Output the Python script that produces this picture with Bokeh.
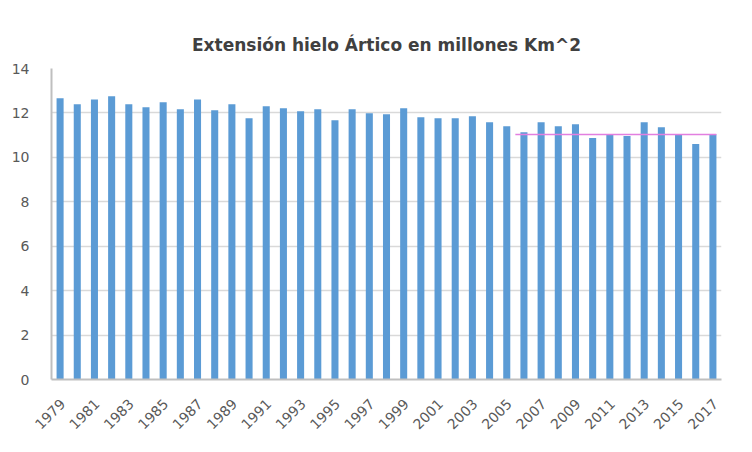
from bokeh.plotting import figure
from bokeh.models import Range1d, FixedTicker, ColumnDataSource
from bokeh.embed import file_html
from bokeh.resources import INLINE

years = list(range(1979, 2018))
extent = [12.66, 12.39, 12.61, 12.75, 12.39, 12.26, 12.48, 12.17, 12.61, 12.12,
          12.39, 11.76, 12.30, 12.21, 12.08, 12.17, 11.67, 12.17, 11.99, 11.94,
          12.21, 11.81, 11.76, 11.76, 11.85, 11.58, 11.40, 11.13, 11.58, 11.40,
          11.49, 10.87, 11.04, 10.96, 11.58, 11.36, 11.04, 10.60, 11.04]
ref_line_x = [2005.5, 2017.2]
ref_line_y = [11.03, 11.03]
tick_years = list(range(1979, 2018, 2))
tick_labels = [str(y) for y in tick_years]
y_ticks = [0, 2, 4, 6, 8, 10, 12, 14]

FONT = "DejaVu Sans"
LABEL_SHIFT = 0.15  # rotated labels end slightly right of their bar, as in the reference

p = figure(width=736, height=436, output_backend="svg", toolbar_location=None,
           x_range=Range1d(1978.5, 2017.5), y_range=Range1d(0, 14),
           min_border_left=51, min_border_right=15, min_border_top=68,
           min_border_bottom=55)
p.outline_line_color = None
p.background_fill_color = "white"
p.border_fill_color = "white"

p.title.text = "Extensión hielo Ártico en millones Km^2"
p.title.text_font = FONT
p.title.text_font_size = "17px"
p.title.text_font_style = "bold"
p.title.text_color = "#404040"
p.title.align = "center"
p.title.offset = 7
p.title.standoff = 28

src = ColumnDataSource(dict(x=years, top=extent))
p.vbar(x="x", top="top", width=0.41, bottom=0, source=src,
       fill_color="#5B9BD5", line_color=None)
p.line(ref_line_x, ref_line_y, line_color="#E27FE0", line_width=1.5)

tick_pos = [y + LABEL_SHIFT for y in tick_years]
p.xaxis.ticker = FixedTicker(ticks=tick_pos)
p.xaxis.major_label_overrides = {t: l for t, l in zip(tick_pos, tick_labels)}
p.xaxis.major_label_orientation = 0.785398
p.yaxis.ticker = FixedTicker(ticks=y_ticks)

for ax in (p.xaxis, p.yaxis):
    ax.major_label_text_font = FONT
    ax.major_label_text_font_size = "14px"
    ax.major_label_text_color = "#595959"
    ax.major_tick_line_color = None
    ax.minor_tick_line_color = None
    ax.axis_line_color = "#BFBFBF"
    ax.axis_line_width = 2

p.yaxis.major_label_standoff = 16
p.xaxis.major_label_standoff = 16

p.xgrid.grid_line_color = None
p.ygrid.grid_line_color = "#D9D9D9"
p.ygrid.grid_line_width = 1.5

open("out.html", "w").write(file_html(p, INLINE))
